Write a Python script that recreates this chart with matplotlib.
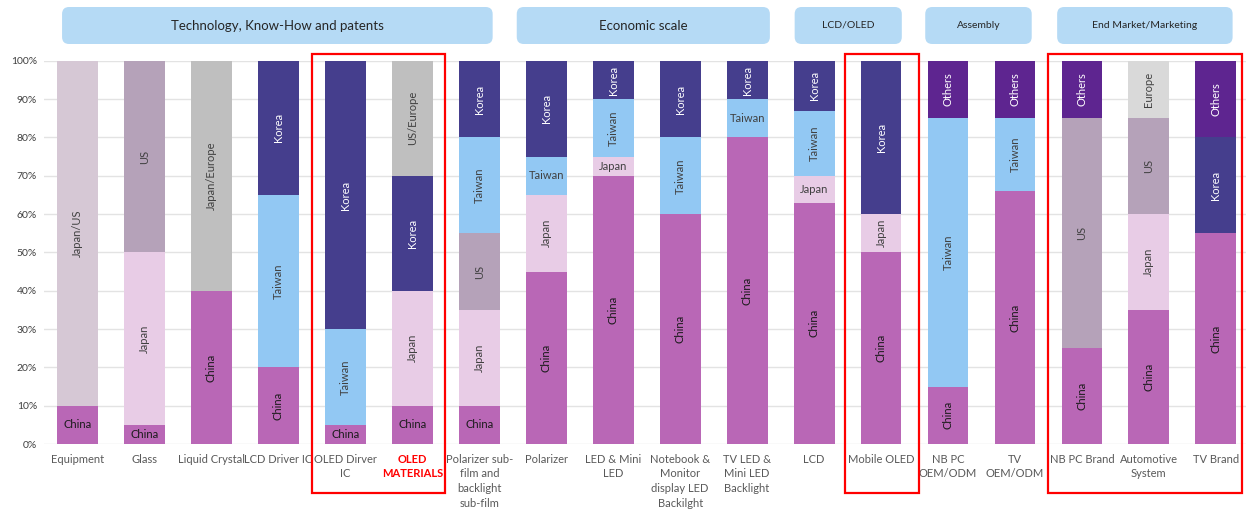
import matplotlib
matplotlib.use('Agg')
import numpy as np
import matplotlib.pyplot as plt
from matplotlib.patches import FancyBboxPatch, Rectangle

plt.rcParams['font.family'] = ['Lato', 'DejaVu Sans']

categories = ['Equipment', 'Glass', 'Liquid Crystal', 'LCD Driver IC', 'OLED Dirver\nIC',
              'OLED\nMATERIALS', 'Polarizer sub-\nfilm and\nbacklight\nsub-film', 'Polarizer',
              'LED & Mini\nLED', 'Notebook &\nMonitor\ndisplay LED\nBackilght',
              'TV LED &\nMini LED\nBacklight', 'LCD', 'Mobile OLED', 'NB PC\nOEM/ODM',
              'TV\nOEM/ODM', 'NB PC Brand', 'Automotive\nSystem', 'TV Brand']

# share (%) per region, stacked bottom -> top in this order
china        = [10, 5, 40, 20, 5, 10, 10, 45, 70, 60, 80, 63, 50, 15, 66, 25, 35, 55]
japan        = [0, 45, 0, 0, 0, 30, 25, 20, 5, 0, 0, 7, 10, 0, 0, 0, 25, 0]
us           = [0, 50, 0, 0, 0, 0, 20, 0, 0, 0, 0, 0, 0, 0, 0, 60, 25, 0]
taiwan       = [0, 0, 0, 45, 25, 0, 25, 10, 15, 20, 10, 17, 0, 70, 19, 0, 0, 0]
korea        = [0, 0, 0, 35, 70, 30, 20, 25, 10, 20, 10, 13, 40, 0, 0, 0, 0, 25]
japan_us     = [90, 0, 0, 0, 0, 0, 0, 0, 0, 0, 0, 0, 0, 0, 0, 0, 0, 0]
japan_europe = [0, 0, 60, 0, 0, 0, 0, 0, 0, 0, 0, 0, 0, 0, 0, 0, 0, 0]
us_europe    = [0, 0, 0, 0, 0, 30, 0, 0, 0, 0, 0, 0, 0, 0, 0, 0, 0, 0]
europe       = [0, 0, 0, 0, 0, 0, 0, 0, 0, 0, 0, 0, 0, 0, 0, 0, 15, 0]
others       = [0, 0, 0, 0, 0, 0, 0, 0, 0, 0, 0, 0, 0, 15, 15, 15, 0, 20]

series = [('China', china, '#B967B6', '#1a1a1a'),
          ('Japan', japan, '#E8CCE6', '#404040'),
          ('US', us, '#B5A2B9', '#404040'),
          ('Taiwan', taiwan, '#92C8F3', '#404040'),
          ('Korea', korea, '#453E8D', 'white'),
          ('Japan/US', japan_us, '#D6C8D5', '#404040'),
          ('Japan/Europe', japan_europe, '#BFBFBF', '#404040'),
          ('US/Europe', us_europe, '#BFBFBF', '#404040'),
          ('Europe', europe, '#D9D9D9', '#404040'),
          ('Others', others, '#5E2590', 'white')]

# header label, first/last category, extent left/right (category units), font size
groups = [('Technology, Know-How and patents', 0, 6, -0.23, 6.2, 9.5),
          ('Economic scale', 7, 10, 6.56, 10.34, 9.5),
          ('LCD/OLED', 11, 12, 10.71, 12.31, 7.5),
          ('Assembly', 13, 14, 12.66, 14.25, 7.5),
          ('End Market/Marketing', 15, 17, 14.63, 17.25, 7.5)]
highlights = [(3.5, 5.49), (11.46, 12.57), (14.49, 17.39)]

fig = plt.figure(figsize=(12.46, 5.11), dpi=100)
ax = fig.add_axes([0.0353, 0.131, 0.9647, 0.75])

x = np.arange(len(categories))
bottom = np.zeros(len(categories))
for name, vals, color, tcol in series:
    vals = np.array(vals, dtype=float)
    ax.bar(x, vals, 0.61, bottom=bottom, color=color, zorder=2)
    for i, v in enumerate(vals):
        if v <= 0:
            continue
        horiz = v <= 7 or (v <= 10 and name in ('China', 'Taiwan'))
        ax.text(i, bottom[i] + v / 2, name, rotation=0 if horiz else 90,
                ha='center', va='center', fontsize=8, color=tcol, zorder=3)
    bottom += vals

ax.set_xlim(-0.5, 17.45)
ax.set_ylim(0, 100)
ax.set_yticks(np.arange(0, 101, 10))
ax.set_yticklabels(['%d%%' % t for t in range(0, 101, 10)], fontsize=7.5, color='#404040')
ax.yaxis.grid(True, color='#E3E3E3', lw=1, zorder=0)
ax.set_xticks(x)
ax.set_xticklabels(categories, fontsize=8, color='#595959', linespacing=1.4)
ax.tick_params(axis='x', length=0, pad=7)
ax.tick_params(axis='y', length=0, pad=5)
ax.get_xticklabels()[5].set_color('red')
ax.get_xticklabels()[5].set_fontweight('bold')
for s in ax.spines.values():
    s.set_visible(False)

# group headers and highlight boxes (drawn in inch coords)
def xin(v):
    return ax.transData.transform((v, 0))[0] / fig.dpi

H = 5.11
for label, a, b, left, right, fs in groups:
    x0, x1 = xin(left), xin(right)
    y0, y1 = (511 - 44) / 100, (511 - 7) / 100
    fig.patches.append(FancyBboxPatch((x0, y0), x1 - x0, y1 - y0,
                                      boxstyle='round,pad=0,rounding_size=0.07',
                                      transform=fig.dpi_scale_trans,
                                      fc='#B5DAF5', ec='none'))
    fig.text((x0 + x1) / 2 / 12.46, (y0 + y1) / 2 / H, label, ha='center', va='center',
             fontsize=fs, color='#262626')

for a, b in highlights:
    x0, x1 = xin(a), xin(b)
    y0, y1 = (511 - 493) / 100, (511 - 54) / 100
    fig.patches.append(Rectangle((x0, y0), x1 - x0, y1 - y0, transform=fig.dpi_scale_trans,
                                 fill=False, ec='red', lw=1.6))

fig.savefig('out.png', dpi=100)
